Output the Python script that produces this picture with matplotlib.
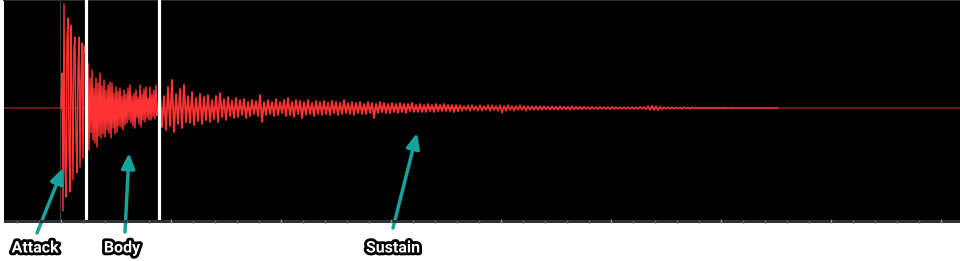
import numpy as np
import matplotlib
matplotlib.use("Agg")
import matplotlib.pyplot as plt
import matplotlib.patheffects as pe

# attack: single samples, one per unit
attack = [0, 35, -103, 104, -60, -89, 70, 90, -40, -84, 83, 20, -72, 61, 71,
          -30, -65, 40, 71, -59, 30, 65, -50, 62]

# body / sustain / tail: (upper peak, lower peak) per step
body_hi = [43, 30, 38, 20, 30, 25, 35, 22, 28, 18, 23, 26, 25, 15, 21, 17, 20, 12,
           18, 14, 20, 23, 12, 15, 18, 11, 23, 14, 19, 21, 10, 21, 14, 18, 23]
body_lo = [-42, -25, -32, -35, -39, -28, -30, -26, -29, -22, -25, -30, -20, -26, -24,
           -18, -19, -22, -17, -15, -12, -15, -18, -20, -10, -16, -19, -12, -14, -10,
           -12, -12, -9, -11, -7]

sustain_hi = [15, 12, 21, 28, 14, 19, 23, 12, 16, 10, 14, 11, 13, 8, 12, 15, 9, 11, 7,
              10, 8, 9, 6, 8, 7, 13, 6, 8, 6, 9, 6, 8, 10, 6, 8, 7, 6, 8, 5, 7, 6, 7,
              5, 7, 6, 5, 8, 5, 6, 5, 6, 4, 6, 5, 4, 6, 5, 4, 5, 4, 5, 4, 4, 5, 3, 4,
              3, 4, 3, 4, 3, 4, 3, 3, 3]
sustain_lo = [-19, -22, -18, -24, -16, -20, -14, -15, -17, -13, -16, -12, -14, -11, -14,
              -9, -12, -8, -10, -9, -7, -10, -8, -6, -8, -14, -7, -6, -8, -7, -5, -8,
              -7, -9, -6, -10, -7, -6, -8, -6, -7, -6, -7, -5, -7, -6, -5, -6, -7, -5,
              -6, -6, -5, -10, -5, -4, -5, -5, -4, -5, -4, -5, -3, -4, -4, -4, -4, -3,
              -4, -3, -3, -3, -3, -4, -3]

tail_hi = [3, 2, 3, 3, 2, 3, 2, 3, 3, 2,
           3, 2, 3, 2, 2, 3, 2, 2, 2, 2,
           2, 2, 1.5, 2, 1.5, 2, 1.5, 1.5, 2, 1.5,
           1.5, 1.5, 1, 1.5, 1, 1.5, 1, 1, 1.5, 1,
           1, 1, 1, 1, 1, 1.5, 1, 2, 2.5, 2,
           1.5, 1, 1, 1, 1, 0.5, 1, 0.5, 1, 0.5,
           0.5, 0.5, 0.5, 0.5, 0.5, 0.3, 0.5, 0.3, 0.5, 0.3,
           0.3, 0.3, 0.3, 0.3, 0.3, 0.2, 0.2, 0.2, 0, 0]
tail_lo = [-3, -2, -3, -2, -3, -3, -2, -3, -2, -3,
           -5, -3, -2, -3, -2, -2, -3, -2, -2, -2,
           -2, -1.5, -2, -1.5, -2, -1.5, -1.5, -2, -1.5, -1.5,
           -1.5, -1, -1.5, -1, -1.5, -1, -1, -1.5, -1, -1,
           -1, -1, -1, -1, -1, -1, -1.5, -2, -2, -2.5,
           -1.5, -1, -1, -1, -0.5, -1, -0.5, -1, -0.5, -0.5,
           -0.5, -0.5, -0.3, -0.5, -0.5, -0.3, -0.5, -0.3, -0.3, -0.3,
           -0.3, -0.3, -0.2, -0.3, -0.2, -0.2, -0.2, -0.1, 0, 0]

markers = [25, 98]          # attack|body and body|sustain boundaries
labels = ["Attack", "Body", "Sustain"]
label_tips = [(2, -60), (68, -45), (356, -25)]


def zigzag(hi, lo, start, step):
    # alternate upper and lower peaks along the time axis
    x = np.empty(2 * len(hi))
    y = np.empty(2 * len(hi))
    base = start + step * np.arange(len(hi))
    x[0::2] = base
    x[1::2] = base + step / 2
    y[0::2] = hi
    y[1::2] = lo
    return x, y


xa = np.arange(len(attack), dtype=float)
xb, yb = zigzag(body_hi, body_lo, 27, 2)
xs, ys = zigzag(sustain_hi, sustain_lo, 99, 4)
xt, yt = zigzag(tail_hi, tail_lo, 399, 4)

W, H = 960, 261
fig = plt.figure(figsize=(W / 100, H / 100), dpi=100)
fig.patch.set_facecolor("white")

ax = fig.add_axes([4 / W, 41 / H, 956 / W, 220 / H])
ax.set_facecolor("black")
ax.set_xlim(-57, 899)
ax.set_ylim(-112, 108)
ax.set_xticks([])
ax.set_yticks([])
for s in ax.spines.values():
    s.set_visible(False)
ax.spines["top"].set_visible(True)
ax.spines["top"].set_color("#2a2a2a")
ax.spines["top"].set_linewidth(1.5)

ax.axhline(0, color="#7a1c1c", lw=1.2, zorder=1)
ax.axvline(-1, color="#3a3a3a", lw=0.8, zorder=1)
red = "#ff3333"
ax.plot(np.concatenate([xa, xb]), np.concatenate([attack, yb]), color=red, lw=1.0, zorder=2)
ax.plot(np.concatenate([xb[-1:], xs]), np.concatenate([yb[-1:], ys]), color=red, lw=1.3, zorder=2)
ax.plot(np.concatenate([xs[-1:], xt]), np.concatenate([ys[-1:], yt]), color=red, lw=1.0, zorder=2)
for m in markers:
    ax.axvline(m, color="white", lw=2.3, zorder=3)

# ruler strip under the waveform
strip = fig.add_axes([4 / W, 38 / H, 956 / W, 3 / H])
strip.set_facecolor("#2e3135")
strip.set_xlim(-57, 899)
strip.set_ylim(0, 1)
strip.set_yticks([])
strip.set_xticks(np.arange(0, 900, 110))
strip.set_xticks(np.arange(-44, 900, 22), minor=True)
strip.tick_params(which="major", direction="in", length=3, width=1, color="#8a8e94",
                  labelbottom=False)
strip.tick_params(which="minor", direction="in", length=2, width=1, color="#5c6066")
for s in strip.spines.values():
    s.set_visible(False)

# labels and arrows
label_pos = [(35, 13), (122, 13), (393, 13)]
arrow_tail = [(37, 28), (125, 29), (393, 33)]
for text, tip, lp, tail in zip(labels, label_tips, label_pos, arrow_tail):
    ax.annotate("", xy=tip, xycoords="data", xytext=tail, textcoords="figure pixels",
                arrowprops=dict(arrowstyle="-|>,head_length=0.9,head_width=0.4",
                                color="#16a39b", lw=2.5, shrinkA=0, shrinkB=0,
                                mutation_scale=10),
                annotation_clip=False, zorder=5)
    fig.text(lp[0] / W, lp[1] / H, text, ha="center", va="center", color="white",
             fontsize=11.5, fontweight="bold", family=["Roboto", "DejaVu Sans"],
             path_effects=[pe.withStroke(linewidth=4, foreground="black")])

fig.savefig("out.png", dpi=100, facecolor=fig.get_facecolor())
